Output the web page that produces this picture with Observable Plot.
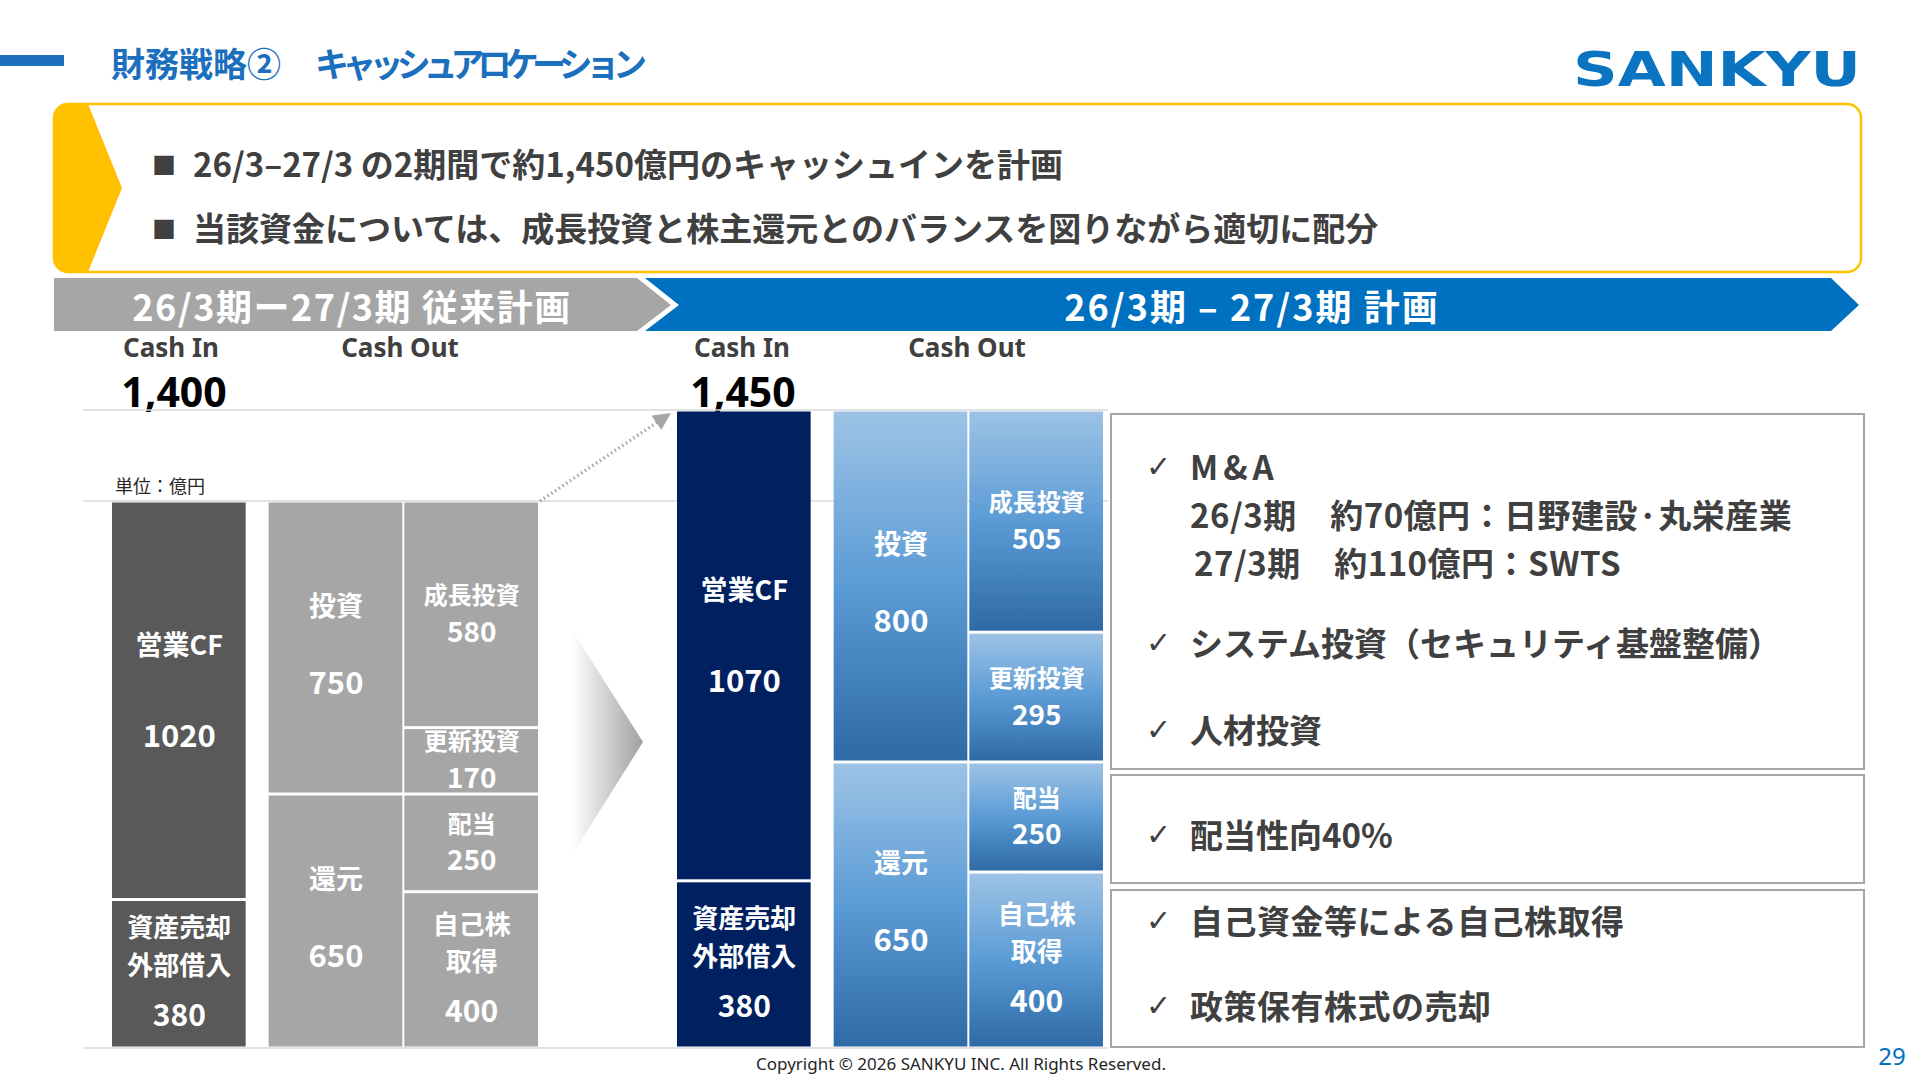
<!DOCTYPE html>
<html><head><meta charset="utf-8">
<script src="https://cdn.jsdelivr.net/npm/d3@7"></script>
<script src="https://cdn.jsdelivr.net/npm/@observablehq/plot@0.6"></script>
<style>
html,body{margin:0;padding:0;background:#fff;}
#page{position:relative;width:1920px;height:1080px;overflow:hidden;font-family:"Noto Sans CJK JP","Noto Sans",sans-serif;}
.abs{position:absolute;}
</style></head>
<body><div id="page">
<svg id="deco" class="abs" style="left:0;top:0" width="1920" height="1080" font-family="'Noto Sans CJK JP', sans-serif">
<defs>
<linearGradient id="blueGrad" x1="0" y1="0" x2="0" y2="1">
<stop offset="0" stop-color="#9dc3e6"/><stop offset="0.5" stop-color="#5b9bd5"/><stop offset="1" stop-color="#2e6aa6"/>
</linearGradient>
<linearGradient id="chevGrad" x1="0" y1="0" x2="1" y2="0">
<stop offset="0" stop-color="#ffffff"/><stop offset="1" stop-color="#a0a0a0"/>
</linearGradient>
<marker id="arrowHead" viewBox="0 0 10 10" refX="8" refY="5" markerWidth="5" markerHeight="5" orient="auto">
<path d="M0,0 L10,5 L0,10 Z" fill="#a6a6a6"/>
</marker>
</defs>
</svg>
<div id="left" class="abs" style="left:111px;top:501px;width:427px"></div>
<div id="right" class="abs" style="left:676px;top:410px;width:427px"></div>
</div>
<script>
// ---------------- data ----------------
const titleParts = ["財務戦略②", "キャッシュアロケーション"];
const bulletTexts = ["26/3–27/3 の2期間で約1,450億円のキャッシュインを計画", "当該資金については、成長投資と株主還元とのバランスを図りながら適切に配分"];
const panelTitles = ["26/3期ー27/3期 従来計画", "26/3期 – 27/3期 計画"];
const cashInTotals = [1400, 1450];
const inNames = ["資産売却\n外部借入", "営業CF"];
const oldInValues = [380, 1020];
const newInValues = [380, 1070];
const outNames = ["還元", "投資"];
const oldOutValues = [650, 750];
const newOutValues = [650, 800];
const detailNames = ["自己株\n取得", "配当", "更新投資", "成長投資"];
const oldDetailValues = [400, 250, 170, 580];
const newDetailValues = [400, 250, 295, 505];
const investNotes = ["M&A", "26/3期　約70億円：日野建設·丸栄産業", "27/3期　約110億円：SWTS", "システム投資（セキュリティ基盤整備）", "人材投資"];
const dividendNotes = ["配当性向40%"];
const buybackNotes = ["自己資金等による自己株取得", "政策保有株式の売却"];

// ---------------- decoration ----------------
const NS = "http://www.w3.org/2000/svg";
const deco = document.getElementById("deco");
function el(tag, attrs, text) {
  const e = document.createElementNS(NS, tag);
  for (const k in attrs) e.setAttribute(k, attrs[k]);
  if (text != null) e.textContent = text;
  deco.appendChild(e);
  return e;
}
// title
el("rect", {x: 0, y: 55, width: 64, height: 11, fill: "#1b6fbd"});
el("text", {x: 111, y: 62, "font-size": 34, "font-weight": 700, fill: "#1b6fbd", "dominant-baseline": "central"}, titleParts[0]);
el("text", {x: 315, y: 62, "font-size": 34, "font-weight": 700, fill: "#1b6fbd", "dominant-baseline": "central", textLength: 332, lengthAdjust: "spacing"}, titleParts[1]);
el("text", {x: 1573, y: 86, "font-family": "'DejaVu Sans', sans-serif", "font-weight": "bold", "font-size": 48, fill: "#0a74c0", textLength: 288, lengthAdjust: "spacingAndGlyphs"}, "SANKYU");
// yellow box
el("rect", {x: 54, y: 104, width: 1807, height: 168, rx: 14, fill: "#fff", stroke: "#ffc000", "stroke-width": 2.5});
el("path", {d: "M88,104 L68,104 Q54,104 54,118 L54,258 Q54,272 68,272 L88,272 L122,188 Z", fill: "#ffc000"});
bulletTexts.forEach((t, i) => {
  const y = 163 + i * 64;
  el("text", {x: 152, y, "font-size": 24, fill: "#404040", "dominant-baseline": "central"}, "■");
  el("text", {x: 193, y, "font-size": 33, "font-weight": 700, fill: "#404040", "dominant-baseline": "central"}, t);
});
// header arrows
el("polygon", {points: "54,278 637,278 671,305 637,331 54,331", fill: "#a6a6a6"});
el("polygon", {points: "645,278 1831,278 1859,305 1831,331 645,331 679,305", fill: "#0070c0"});
el("text", {x: 352, y: 305, "font-size": 36, "font-weight": 700, fill: "#fff", "text-anchor": "middle", "dominant-baseline": "central", "letter-spacing": 1.5}, panelTitles[0]);
el("text", {x: 1252, y: 305, "font-size": 36, "font-weight": 700, fill: "#fff", "text-anchor": "middle", "dominant-baseline": "central", "letter-spacing": 2}, panelTitles[1]);
// cash in / out headings
[[171, "Cash In"], [400, "Cash Out"], [742, "Cash In"], [967, "Cash Out"]].forEach(([x, t]) =>
  el("text", {x, y: 347, "font-family": "'Noto Sans', sans-serif", "font-size": 26, "font-weight": 700, fill: "#404040", "text-anchor": "middle", "dominant-baseline": "central"}, t));
[174, 743].forEach((x, i) =>
  el("text", {x, y: 407, "font-family": "'Noto Sans', sans-serif", "font-size": 41, "font-weight": 700, fill: "#000", "text-anchor": "middle"}, d3.format(",")(cashInTotals[i])));
// guide lines
[410, 501, 1048].forEach(y => el("line", {x1: 83, x2: 1108, y1: y, y2: y, stroke: "#d9d9d9", "stroke-width": 1.5}));
el("text", {x: 115, y: 485, "font-size": 18, fill: "#262626", "dominant-baseline": "central"}, "単位：億円");
// chevron between panels
el("polygon", {points: "572,630 643,742 572,855", fill: "url(#chevGrad)"});
// dotted arrow
el("line", {x1: 540, y1: 501, x2: 668, y2: 415, stroke: "#a6a6a6", "stroke-width": 3.5, "stroke-dasharray": "1.5 3", "marker-end": "url(#arrowHead)"});
// note boxes
[[414, 769], [775, 883], [890, 1047]].forEach(([y1, y2]) =>
  el("rect", {x: 1111, y: y1, width: 753, height: y2 - y1, fill: "none", stroke: "#a6a6a6", "stroke-width": 2}));
function note(y, text, check, dx = 0, ls = 0) {
  if (check) el("text", {x: 1146, y, "font-family": "'DejaVu Sans', sans-serif", "font-size": 30, fill: "#404040", "dominant-baseline": "central"}, "✓");
  el("text", {x: 1190 + dx, y, "font-size": 33, "font-weight": 700, fill: "#404040", "dominant-baseline": "central", "letter-spacing": ls}, text);
}
note(466, investNotes[0], true, 0, 5);
note(514, investNotes[1], false, 0, 0.5);
note(562, investNotes[2], false, 4, 0.5);
note(642, investNotes[3], true);
note(729, investNotes[4], true);
note(834, dividendNotes[0], true);
note(920, buybackNotes[0], true, 0, 0.5);
note(1005, buybackNotes[1], true, 0, 0.5);
// footer
el("text", {x: 961, y: 1063, "font-family": "'Noto Sans', sans-serif", "font-size": 17, fill: "#262626", "text-anchor": "middle", "dominant-baseline": "central"}, "Copyright © 2026 SANKYU INC. All Rights Reserved.");
el("text", {x: 1892, y: 1055, "font-family": "'Noto Sans', sans-serif", "font-size": 24, fill: "#0070c0", "text-anchor": "middle", "dominant-baseline": "central"}, "29");

// ---------------- charts ----------------
function stackRows(col, names, values) {
  let acc = 0;
  return names.map((name, i) => {
    const y1 = acc; acc += values[i];
    return {col, name, value: values[i], y1, y2: acc, mid: (y1 + acc) / 2, multi: name.includes("\n")};
  });
}
const colStyle = {
  in: {insetLeft: 0, insetRight: 8.333, dx: -4.17, dy: [-58, 36], fs: [27, 31]},
  out: {insetLeft: 14.667, insetRight: -6.333, dx: 10.5, dy: [-45, 36], fs: [27, 31]},
  detail: {insetLeft: 8.333, insetRight: 0, dx: 4.17, dy: [-22, 18], fs: [24, 28]}
};
const multiDy = [-30, 42];

function panel(rows, total, height, fills) {
  const marks = [];
  for (const col of ["in", "out", "detail"]) {
    const s = colStyle[col];
    const data = rows.filter(d => d.col === col);
    marks.push(Plot.barY(data, {x: "col", y1: "y1", y2: "y2", fill: fills[col], insetLeft: s.insetLeft, insetRight: s.insetRight, insetTop: 1.5, insetBottom: 1.5}));
    for (const multi of [false, true]) {
      const sub = data.filter(d => d.multi === multi);
      if (!sub.length) continue;
      const [dn, dv] = multi ? multiDy : s.dy;
      const [fn, fv] = multi ? [26, 30] : s.fs;
      marks.push(Plot.text(sub, {x: "col", y: "mid", text: "name", dx: s.dx, dy: dn, fill: "white", fontSize: fn, fontWeight: 700, lineHeight: 1.45}));
      marks.push(Plot.text(sub, {x: "col", y: "mid", text: d => String(d.value), dx: s.dx, dy: dv, fill: "white", fontSize: fv, fontWeight: 700}));
    }
  }
  return Plot.plot({
    width: 427, height, margin: 0,
    x: {type: "band", domain: ["in", "out", "detail"], padding: 0, axis: null},
    y: {domain: [0, total], axis: null},
    style: {background: "transparent", fontFamily: "'Noto Sans CJK JP', sans-serif", overflow: "visible"},
    marks
  });
}
const oldRows = [...stackRows("in", inNames, oldInValues), ...stackRows("out", outNames, oldOutValues), ...stackRows("detail", detailNames, oldDetailValues)];
const newRows = [...stackRows("in", inNames, newInValues), ...stackRows("out", outNames, newOutValues), ...stackRows("detail", detailNames, newDetailValues)];
document.getElementById("left").append(panel(oldRows, cashInTotals[0], 547, {in: "#595959", out: "#a6a6a6", detail: "#a6a6a6"}));
document.getElementById("right").append(panel(newRows, cashInTotals[1], 638, {in: "#002060", out: "url(#blueGrad)", detail: "url(#blueGrad)"}));
</script>
</body></html>
